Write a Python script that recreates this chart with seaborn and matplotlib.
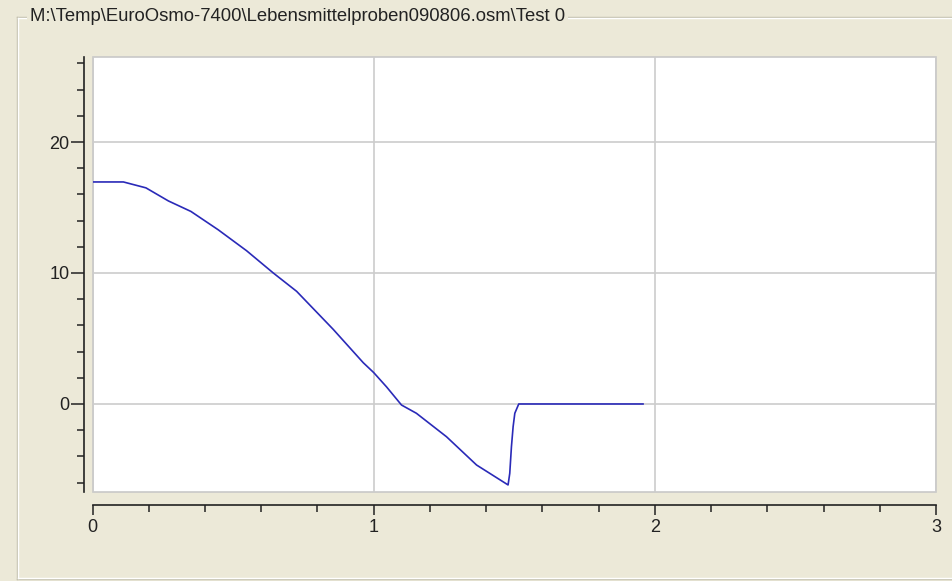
import numpy as np
import pandas as pd
import seaborn as sns
import matplotlib.pyplot as plt
from matplotlib.lines import Line2D
from matplotlib.ticker import MultipleLocator

# data
time = [0.0, 0.11, 0.19, 0.27, 0.35, 0.447, 0.548, 0.643, 0.726, 0.856, 0.963, 1.0,
        1.046, 1.099, 1.152, 1.259, 1.366, 1.478, 1.484, 1.490, 1.496, 1.502, 1.516, 1.958]
temp = [16.95, 16.95, 16.5, 15.5, 14.7, 13.3, 11.7, 10.0, 8.6, 5.7, 3.15, 2.4,
        1.3, -0.08, -0.71, -2.5, -4.66, -6.18, -5.3, -3.26, -1.73, -0.71, 0.0, 0.0]
x_ticks = [0, 1, 2, 3]
y_ticks = [0, 10, 20]
title = "M:\\Temp\\EuroOsmo-7400\\Lebensmittelproben090806.osm\\Test 0"

df = pd.DataFrame({'t': time, 'v': temp})

bg = '#ECE9D8'
plt.rcParams['font.family'] = ['Liberation Sans', 'DejaVu Sans']

fig = plt.figure(figsize=(9.52, 5.81), dpi=100, facecolor=bg)

# group box frame (etched look)
W, H = 952, 581
def fx(p): return p / W
def fy(p): return 1 - p / H
for off, col in [(0, '#c2bfac'), (1, '#ffffff')]:
    fig.add_artist(Line2D([fx(17 + off), 1.01], [fy(17 + off), fy(17 + off)], color=col, lw=1))
    fig.add_artist(Line2D([fx(17 + off), fx(17 + off)], [fy(17 + off), fy(579 - off)], color=col, lw=1))
    fig.add_artist(Line2D([fx(17 + off), 1.01], [fy(579 - off), fy(579 - off)], color=col, lw=1))
fig.text(fx(30), fy(16.5), title, fontsize=13.3, va='center', ha='left', color='#222222',
         bbox=dict(facecolor=bg, edgecolor='none', pad=2))

ax = fig.add_axes([fx(92.5), fy(492), fx(936) - fx(92.5), fy(57) - fy(492)])
ax.set_facecolor('white')
ax.patch.set_edgecolor('#c8c8c8')
ax.patch.set_linewidth(1.2)

sns.lineplot(data=df, x='t', y='v', ax=ax, estimator=None, sort=False,
             color='#2a2ab8', lw=1.2)

ax.set_xlim(0, 3)
ax.set_ylim(-6.72, 26.49)
ax.set_xticks(x_ticks)
ax.set_yticks(y_ticks)
ax.xaxis.set_minor_locator(MultipleLocator(0.2))
ax.yaxis.set_minor_locator(MultipleLocator(2))
ax.grid(which='major', color='#cccccc', lw=1.2)
ax.set_axisbelow(True)
ax.set_xlabel('')
ax.set_ylabel('')

for s in ['top', 'right']:
    ax.spines[s].set_visible(False)
ax.spines['left'].set_position(('outward', 6))
ax.spines['bottom'].set_position(('outward', 9))
for s in ['left', 'bottom']:
    ax.spines[s].set_color('#222222')
    ax.spines[s].set_linewidth(1.2)

ax.tick_params(axis='x', which='major', length=7.5, width=1.1, pad=3, labelsize=13, color='#222222', labelcolor='#222222')
ax.tick_params(axis='x', which='minor', length=5, width=1.1, color='#222222')
ax.tick_params(axis='y', which='major', length=9.5, width=1.1, pad=1, labelsize=13, color='#222222', labelcolor='#222222')
ax.tick_params(axis='y', which='minor', length=5.3, width=1.1, color='#222222')

fig.savefig('out.png', dpi=100, facecolor=bg)
